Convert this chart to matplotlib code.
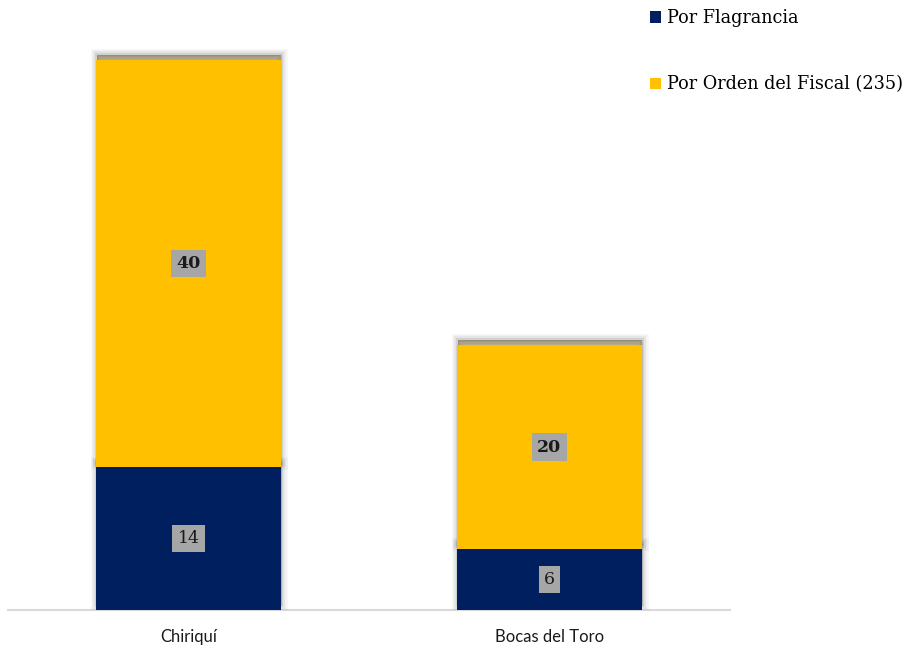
import matplotlib
matplotlib.use("Agg")
import matplotlib.pyplot as plt
import matplotlib.patheffects as pe
from matplotlib.patches import Patch

categories = ["Chiriquí", "Bocas del Toro"]
flagrancia = [14, 6]
orden_fiscal = [40, 20]
series_names = ["Por Flagrancia", "Por Orden del Fiscal (235)"]
colors = ["#001F5F", "#FFC000"]

fig = plt.figure(figsize=(9.08, 6.48), dpi=100)
ax = fig.add_axes([8/908, 1 - 610/648, 722/908, 610/648])

x = list(range(len(categories)))
width = 0.51
shadow = [pe.Stroke(offset=(0.5, 3.5), linewidth=w, foreground="#000000", alpha=a)
          for w, a in [(9, 0.04), (6, 0.06), (3, 0.09), (0.5, 0.12)]]
shadow += [pe.SimplePatchShadow(offset=(0.5, 3.5), shadow_rgbFace="#555555", alpha=0.4),
           pe.Normal()]

b1 = ax.bar(x, flagrancia, width, color=colors[0], zorder=2)
b2 = ax.bar(x, orden_fiscal, width, bottom=flagrancia, color=colors[1], zorder=3)
for r in list(b1) + list(b2):
    r.set_path_effects(shadow)

serif = ["DejaVu Serif"]
for i in x:
    ax.text(i, flagrancia[i] / 2, str(flagrancia[i]), ha="center", va="center",
            fontsize=12.5, family=serif, color="#1a1a1a", zorder=5,
            bbox=dict(boxstyle="square,pad=0.3", fc="#A6A6A6", ec="none"))
    ax.text(i, flagrancia[i] + orden_fiscal[i] / 2, str(orden_fiscal[i]), ha="center",
            va="center", fontsize=12.5, family=serif, fontweight="bold", color="#1a1a1a",
            zorder=5, bbox=dict(boxstyle="square,pad=0.3", fc="#A6A6A6", ec="none"))

ax.set_xlim(-0.5, 1.5)
ax.set_ylim(0, 59.9)
ax.set_xticks(x)
ax.set_xticklabels(categories, fontsize=12, family=["Lato", "DejaVu Sans"],
                   color="#1a1a1a")
ax.tick_params(axis="x", length=0, pad=14)
ax.set_yticks([])
for s in ["top", "right", "left"]:
    ax.spines[s].set_visible(False)
ax.spines["bottom"].set_color("#D9D9D9")
ax.spines["bottom"].set_linewidth(1.5)
ax.spines["bottom"].set_zorder(1)

handles = [Patch(facecolor=c, edgecolor="none") for c in colors]
fig.legend(handles=handles, labels=series_names, loc="upper left",
           bbox_to_anchor=(643/908, 1 - 2/648), frameon=False,
           prop={"family": serif, "size": 12.7}, handlelength=0.64, handleheight=0.64,
           handletextpad=0.3, labelspacing=2.75, borderaxespad=0)

fig.savefig("out.png", dpi=100)
